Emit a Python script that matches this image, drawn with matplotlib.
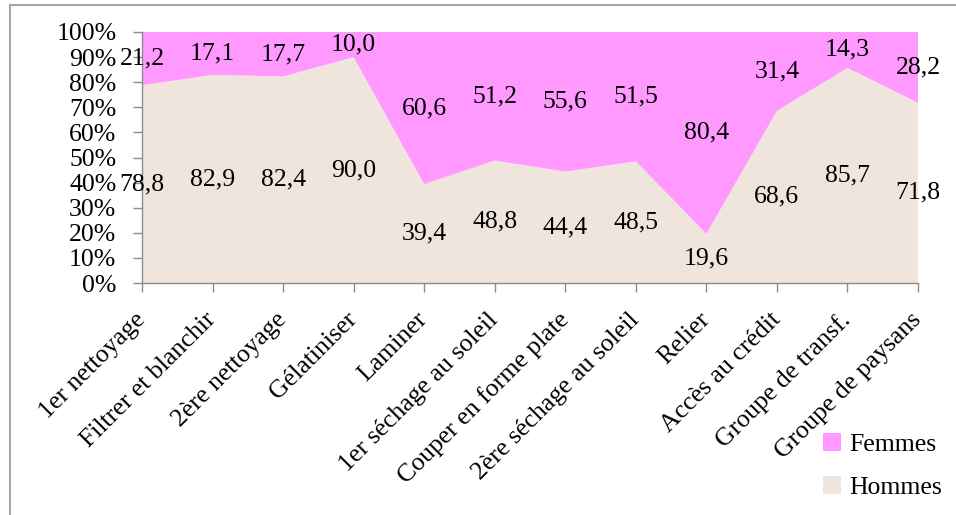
import matplotlib
matplotlib.use("Agg")
import matplotlib.pyplot as plt
from matplotlib.patches import Rectangle, Patch
import numpy as np

plt.rcParams["font.family"] = ["Liberation Serif", "DejaVu Serif"]

categories = ["1er nettoyage", "Filtrer et blanchir", "2ère nettoyage", "Gélatiniser",
              "Laminer", "1er séchage au soleil", "Couper en forme plate",
              "2ère séchage au soleil", "Relier", "Accès au crédit",
              "Groupe de transf.", "Groupe de paysans"]
hommes = [78.8, 82.9, 82.4, 90.0, 39.4, 48.8, 44.4, 48.5, 19.6, 68.6, 85.7, 71.8]
femmes = [21.2, 17.1, 17.7, 10.0, 60.6, 51.2, 55.6, 51.5, 80.4, 31.4, 14.3, 28.2]
y_ticks = [0, 10, 20, 30, 40, 50, 60, 70, 80, 90, 100]

col_f = "#FF99FF"
col_h = "#EFE5DD"
fs = 18.5

fig = plt.figure(figsize=(9.56, 5.15), dpi=100)
fig.patches.append(Rectangle((10 / 956, -0.05), 2.0, (510 / 515) + 0.05, transform=fig.transFigure,
                             fill=False, edgecolor="#A6A6A6", linewidth=1.5, zorder=0))

ax = fig.add_axes([142 / 956, (515 - 283) / 515, (918 - 142) / 956, (283 - 32) / 515])

h = np.array(hommes)
f = np.array(femmes)
tot = h + f
hp = h / tot * 100
fp = f / tot * 100
x = np.arange(len(categories))

ax.stackplot(x, hp, fp, colors=[col_h, col_f], linewidth=0)
ax.set_xlim(0, len(categories) - 1)
ax.set_ylim(0, 100)

for xi, hv, fv, hr, fr in zip(x, hp, fp, hommes, femmes):
    ax.text(xi, hv / 2, f"{hr:.1f}".replace(".", ","), ha="center", va="center", fontsize=fs)
    ax.text(xi, hv + fv / 2, f"{fr:.1f}".replace(".", ","), ha="center", va="center", fontsize=fs)

ax.set_yticks(y_ticks)
ax.set_yticklabels([f"{v}%" for v in y_ticks], fontsize=fs)
ax.set_xticks(x)
ax.set_xticklabels(categories, rotation=45, ha="right", va="center", rotation_mode="anchor", fontsize=fs)

for s in ["top", "right"]:
    ax.spines[s].set_visible(False)
for s in ["left", "bottom"]:
    ax.spines[s].set_color("#8C8C8C")
    ax.spines[s].set_linewidth(1.0)
ax.tick_params(axis="both", direction="out", color="#8C8C8C", length=6.5, width=1.0)
ax.tick_params(axis="y", pad=12)
ax.tick_params(axis="x", pad=17.5)

handles = [Patch(facecolor=col_f, edgecolor="none"), Patch(facecolor=col_h, edgecolor="none")]
fig.legend(handles, ["Femmes", "Hommes"], loc="center left", bbox_to_anchor=(800 / 956, (515 - 466) / 515),
           frameon=False, fontsize=fs, handlelength=0.7, handleheight=0.7, handletextpad=0.3,
           labelspacing=0.75)

fig.savefig("out.png", dpi=100)
